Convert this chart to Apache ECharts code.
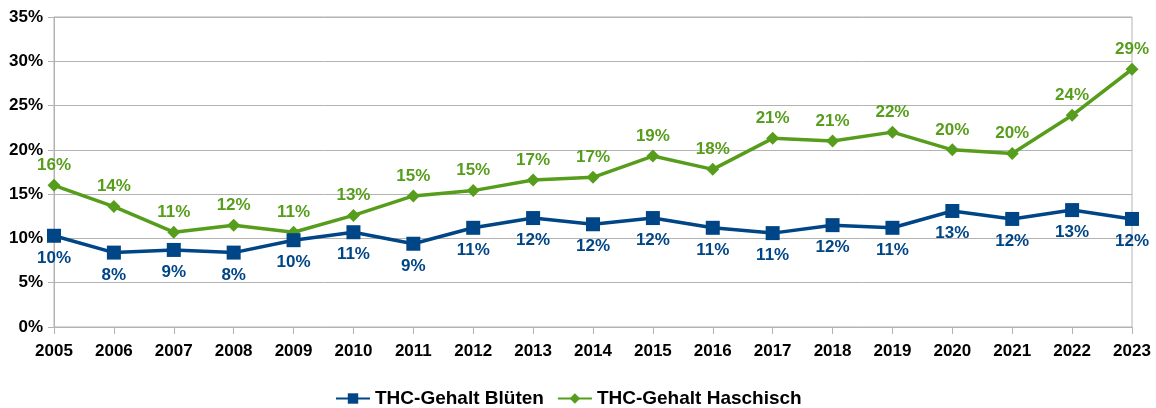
<!DOCTYPE html>
<html>
<head>
<meta charset="utf-8">
<script src="https://cdn.jsdelivr.net/npm/echarts@6/dist/echarts.min.js"></script>
<style>
    html, body { margin: 0; padding: 0; background: #fff; }
    #main { width: 1156px; height: 408px; }
</style>
</head>
<body>
<div id="main"></div>
<script>
// Jahre
var years = ['2005', '2006', '2007', '2008', '2009', '2010', '2011', '2012', '2013', '2014',
             '2015', '2016', '2017', '2018', '2019', '2020', '2021', '2022', '2023'];

// THC-Gehalt in %
var blueten = [10.3, 8.4, 8.7, 8.4, 9.8, 10.7, 9.4, 11.2, 12.3, 11.6,
               12.3, 11.2, 10.6, 11.5, 11.2, 13.1, 12.2, 13.2, 12.2];
var haschisch = [16.0, 13.6, 10.7, 11.5, 10.7, 12.6, 14.8, 15.4, 16.6, 16.9,
                 19.3, 17.8, 21.3, 21.0, 22.0, 20.0, 19.6, 23.9, 29.1];

var yTicks = [0, 5, 10, 15, 20, 25, 30, 35];

var myChart = echarts.init(document.getElementById('main'));

var labelFont = "'Liberation Sans', Arial, sans-serif";

var option = {
    backgroundColor: '#fff',
    textStyle: { fontFamily: labelFont },
    legend: {
        top: 389,
        left: 335,
        padding: 0,
        itemWidth: 34,
        itemHeight: 13,
        itemGap: 13,
        textStyle: { fontFamily: labelFont, fontWeight: 'bold', fontSize: 19, color: '#000' },
        data: ['THC-Gehalt Blüten', 'THC-Gehalt Haschisch']
    },
    grid: {
        left: 54,
        right: 24,
        top: 17,
        bottom: 81,
        show: true,
        borderColor: '#b3b3b3',
        borderWidth: 1
    },
    xAxis: {
        type: 'category',
        boundaryGap: false,
        data: years,
        axisLine: { lineStyle: { color: '#b3b3b3', width: 1 } },
        axisTick: { show: true, length: 7, lineStyle: { color: '#b3b3b3' } },
        axisLabel: { color: '#000', fontWeight: 'bold', fontSize: 17, fontFamily: labelFont, margin: 16 }
    },
    yAxis: {
        type: 'value',
        min: yTicks[0],
        max: yTicks[yTicks.length - 1],
        interval: 5,
        axisLine: { show: true, lineStyle: { color: '#b3b3b3', width: 1 } },
        axisTick: { show: true, length: 6, lineStyle: { color: '#b3b3b3' } },
        splitLine: { lineStyle: { color: '#b3b3b3', width: 1 } },
        axisLabel: {
            color: '#000', fontWeight: 'bold', fontSize: 17, fontFamily: labelFont, margin: 11,
            formatter: function (v) { return v + '%'; }
        }
    },
    series: [{
        name: 'THC-Gehalt Blüten',
        type: 'line',
        data: blueten,
        color: '#004586',
        symbol: 'rect',
        symbolSize: 14,
        lineStyle: { width: 3.5, color: '#004586' },
        itemStyle: { color: '#004586' },
        label: {
            show: true,
            position: 'bottom',
            distance: 7,
            color: '#004586',
            fontWeight: 'bold',
            fontSize: 17,
            fontFamily: labelFont,
            formatter: function (p) { return Math.round(p.value) + '%'; }
        },
        z: 3
    }, {
        name: 'THC-Gehalt Haschisch',
        type: 'line',
        data: haschisch,
        color: '#579d1c',
        symbol: 'diamond',
        symbolSize: 13,
        lineStyle: { width: 3.5, color: '#579d1c' },
        itemStyle: { color: '#579d1c' },
        label: {
            show: true,
            position: 'top',
            distance: 5,
            color: '#579d1c',
            fontWeight: 'bold',
            fontSize: 17,
            fontFamily: labelFont,
            formatter: function (p) { return Math.round(p.value) + '%'; }
        },
        z: 2
    }]
};

myChart.setOption(option);
</script>
</body>
</html>
